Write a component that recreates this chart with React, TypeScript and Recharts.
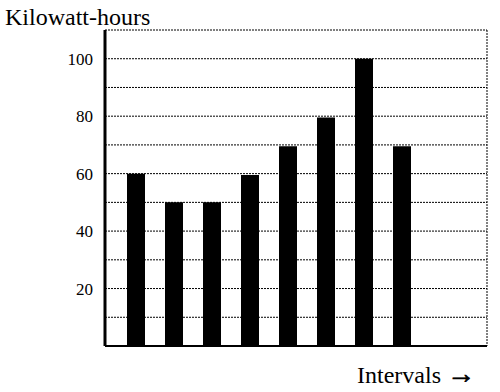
import React from "react";
import { BarChart, Bar, XAxis, YAxis, CartesianGrid, Label } from "recharts";

const intervals = ["1", "2", "3", "4", "5", "6", "7", "8"];
const kwh = [60, 50, 50, 59.5, 69.5, 79.5, 100, 69.5];
const gridTicks = [0, 10, 20, 30, 40, 50, 60, 70, 80, 90, 100, 110];
const labeledTicks = [20, 40, 60, 80, 100];

const data = intervals.map((name, i) => ({ name, kwh: kwh[i] }));

const FONT = '"Liberation Serif", Tinos, "Times New Roman", Times, "DejaVu Serif", "Noto Serif", serif';

const YTitle = (props: any) => {
  const vb = props.viewBox || {};
  return (
    <text x={vb.x + 5} y={vb.y - 5} fontSize={24} style={{ fontFamily: FONT }} fill="#000">
      Kilowatt-hours
    </text>
  );
};

const XTitle = (props: any) => {
  const vb = props.viewBox || {};
  return (
    <text
      x={vb.x + vb.width - 12}
      y={vb.y + vb.height - 9}
      fontSize={24}
      style={{ fontFamily: FONT }}
      fill="#000"
      textAnchor="end"
    >
      Intervals <tspan fontWeight="bold" fontSize={28} stroke="#000" strokeWidth={0.8}>→</tspan>
    </text>
  );
};

export default function App() {
  return (
    <div
      style={{
        position: "absolute",
        left: 0,
        top: 0,
        width: 500,
        height: 392,
        background: "#fff",
        fontFamily: FONT,
      }}
    >
      <BarChart
        width={500}
        height={392}
        data={data}
        margin={{ top: 30, right: 12, bottom: 0, left: 0 }}
        barCategoryGap={0}
        style={{ fontFamily: FONT }}
      >
        <CartesianGrid
          yAxisId="left"
          vertical={false}
          stroke="#000"
          strokeDasharray="2 1"
          strokeWidth={1}
        />
        <XAxis
          dataKey="name"
          height={46}
          tick={false}
          tickLine={false}
          axisLine={{ stroke: "#000", strokeWidth: 2 }}
          padding={{ left: 12, right: 66 }}
        >
          <Label content={XTitle} />
        </XAxis>
        <YAxis
          yAxisId="left"
          width={105}
          domain={[0, 110]}
          ticks={gridTicks}
          interval={0}
          tickSize={0}
          tickMargin={12}
          tickLine={false}
          axisLine={{ stroke: "#000", strokeWidth: 3 }}
          tickFormatter={(v: number) => (labeledTicks.includes(v) ? String(v) : "")}
          tick={{ fill: "#000", fontSize: 17, style: { fontFamily: FONT } }}
        >
          <Label content={YTitle} />
        </YAxis>
        <YAxis
          yAxisId="right"
          orientation="right"
          width={1}
          domain={[0, 110]}
          tick={false}
          tickLine={false}
          axisLine={{ stroke: "#000", strokeWidth: 1, strokeDasharray: "2 1" }}
        />
        <Bar yAxisId="left" dataKey="kwh" fill="#000" barSize={18} isAnimationActive={false} />
      </BarChart>
    </div>
  );
}
